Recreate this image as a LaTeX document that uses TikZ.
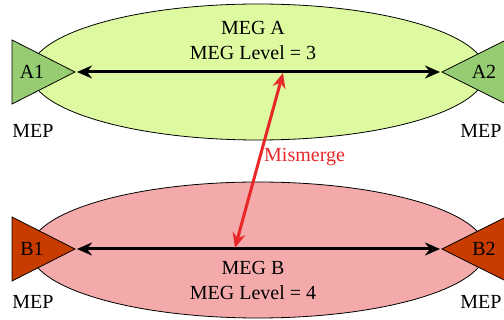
\documentclass[tikz,border=0pt]{standalone}
\usepackage{fontspec}
\setmainfont{Liberation Serif}
\usetikzlibrary{shapes.geometric,arrows.meta}
\definecolor{megA}{RGB}{222,250,160}
\definecolor{megB}{RGB}{244,170,170}
\definecolor{mepA}{RGB}{150,205,115}
\definecolor{mepB}{RGB}{200,60,0}
\definecolor{mis}{RGB}{232,40,40}
\tikzset{
  megbox/.style={ellipse,draw=black,line width=0.8pt,minimum width=456pt,minimum height=136pt,inner sep=0pt},
  tri/.style={draw=black,line width=0.8pt},
  lbl/.style={font=\fontsize{20}{25}\selectfont,inner sep=0pt},
  link/.style={line width=3pt,{Stealth[length=15pt,width=13pt]}-{Stealth[length=15pt,width=13pt]}},
}
\begin{document}
\begin{tikzpicture}[x=1pt,y=-1pt]
\useasboundingbox (0,0) rectangle (504,320);
\clip (0,0) rectangle (504,320);
\node[megbox,fill=megA] (ea) at (258,72) {};
\node[megbox,fill=megB] (eb) at (258,250) {};
% triangles
\draw[tri,fill=mepA] (12,40) -- (75,72) -- (12,104) -- cycle;
\draw[tri,fill=mepA] (506,40) -- (442,72) -- (506,104) -- cycle;
\draw[tri,fill=mepB] (12,217) -- (75,249) -- (12,281) -- cycle;
\draw[tri,fill=mepB] (506,217) -- (442,249) -- (506,281) -- cycle;
\coordinate (a1) at (75,72);
\coordinate (a2) at (442,72);
\coordinate (b1) at (75,249);
\coordinate (b2) at (442,249);
\node[lbl] (la1) at (32,72) {A1};
\node[lbl] (la2) at (484,72) {A2};
\node[lbl] (lb1) at (32,249) {B1};
\node[lbl] (lb2) at (484,249) {B2};
\node[lbl] (ma1) at (33,131) {MEP};
\node[lbl] (ma2) at (481,131) {MEP};
\node[lbl] (mb1) at (33,302) {MEP};
\node[lbl] (mb2) at (481,302) {MEP};
\node[lbl,align=center] (ta) at (253,40) {MEG A\\MEG Level = 3};
\node[lbl,align=center] (tb) at (253,280) {MEG B\\MEG Level = 4};
\draw[link,shorten <=2pt,shorten >=2pt] (a1) -- (a2);
\draw[link,shorten <=2pt,shorten >=2pt] (b1) -- (b2);
\coordinate (m1) at (283,73);
\coordinate (m2) at (235,248);
\draw[link,draw=mis,fill=mis] (m1) -- (m2);
\node[lbl,text=mis,anchor=west] (mm) at (264,157) {Mismerge};
\end{tikzpicture}
\end{document}
